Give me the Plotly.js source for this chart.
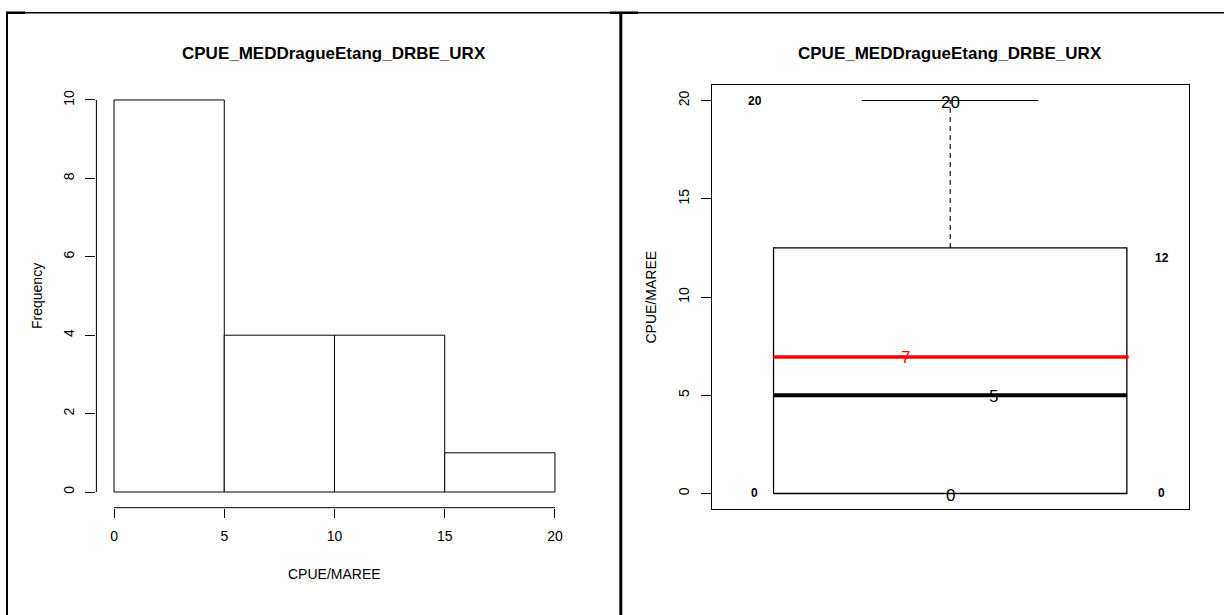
<!DOCTYPE html>
<html>
<head>
<meta charset="utf-8">
<script src="https://cdn.plot.ly/plotly-3.0.1.min.js"></script>
<style>
  html, body { margin: 0; padding: 0; background: #ffffff; }
  #chart { width: 1224px; height: 615px; }
</style>
</head>
<body>
<div id="chart"></div>
<script>
// ---------------- data ----------------
const chartTitle = "CPUE_MEDDragueEtang_DRBE_URX";
const valueLabel = "CPUE/MAREE";
const freqLabel = "Frequency";

const histBinEdges = [0, 5, 10, 15, 20];
const histCounts = [10, 4, 4, 1];
const histXTicks = [0, 5, 10, 15, 20];
const histYTicks = [0, 2, 4, 6, 8, 10];

const boxYTicks = [0, 5, 10, 15, 20];
const boxStatNames = ["min", "q1", "median", "mean", "q3", "max"];
const boxStatValues = [0, 0, 5, 6.95, 12.5, 20];

// ---------------- helpers ----------------
const W = 1224, H = 615;
const px = v => v / W;            // horizontal pixel -> paper
const py = v => (H - v) / H;      // vertical pixel (from top) -> paper
const stat = name => boxStatValues[boxStatNames.indexOf(name)];
function roundHalfEven(v) {        // R's round()
  const f = Math.floor(v), d = v - f;
  if (Math.abs(d - 0.5) < 1e-9) return (f % 2 === 0) ? f : f + 1;
  return Math.round(v);
}

const FONT = "Liberation Sans, Arial, Helvetica, sans-serif";
const BLACK = "#000000";

// histogram bars from bin edges
const barCenters = histCounts.map((_, i) => (histBinEdges[i] + histBinEdges[i + 1]) / 2);
const barWidths = histCounts.map((_, i) => histBinEdges[i + 1] - histBinEdges[i]);

// box geometry (style constants)
const boxPos = 1, boxHalf = 0.4, capHalf = 0.2;
const bx0 = boxPos - boxHalf, bx1 = boxPos + boxHalf;

const traces = [
  {
    type: "bar", x: barCenters, y: histCounts, width: barWidths,
    marker: { color: "#ffffff", line: { color: BLACK, width: 1 } },
    xaxis: "x", yaxis: "y", hoverinfo: "skip", showlegend: false
  },
  // box outline
  {
    type: "scatter", mode: "lines", xaxis: "x2", yaxis: "y2",
    x: [bx0, bx1, bx1, bx0, bx0],
    y: [stat("q1"), stat("q1"), stat("q3"), stat("q3"), stat("q1")],
    line: { color: BLACK, width: 1.3 }, hoverinfo: "skip", showlegend: false
  },
  // upper whisker (dashed)
  {
    type: "scatter", mode: "lines", xaxis: "x2", yaxis: "y2",
    x: [boxPos, boxPos], y: [stat("q3"), stat("max")],
    line: { color: BLACK, width: 1.1, dash: "5px,4px" }, hoverinfo: "skip", showlegend: false
  },
  // lower whisker (dashed)
  {
    type: "scatter", mode: "lines", xaxis: "x2", yaxis: "y2",
    x: [boxPos, boxPos], y: [stat("min"), stat("q1")],
    line: { color: BLACK, width: 1.1, dash: "5px,4px" }, hoverinfo: "skip", showlegend: false
  },
  // caps
  {
    type: "scatter", mode: "lines", xaxis: "x2", yaxis: "y2",
    x: [boxPos - capHalf, boxPos + capHalf], y: [stat("max"), stat("max")],
    line: { color: BLACK, width: 1.2 }, hoverinfo: "skip", showlegend: false
  },
  {
    type: "scatter", mode: "lines", xaxis: "x2", yaxis: "y2",
    x: [boxPos - capHalf, boxPos + capHalf], y: [stat("min"), stat("min")],
    line: { color: BLACK, width: 1.2 }, hoverinfo: "skip", showlegend: false
  },
  // median
  {
    type: "scatter", mode: "lines", xaxis: "x2", yaxis: "y2",
    x: [bx0, bx1], y: [stat("median"), stat("median")],
    line: { color: BLACK, width: 4 }, hoverinfo: "skip", showlegend: false
  },
  // mean (red)
  {
    type: "scatter", mode: "lines", xaxis: "x2", yaxis: "y2",
    x: [bx0, bx1 + 0.004], y: [stat("mean"), stat("mean")],
    line: { color: "#ff0000", width: 3.5 }, hoverinfo: "skip", showlegend: false
  }
];

const tickFont = { family: FONT, size: 14, color: BLACK };

const layout = {
  width: W, height: H,
  margin: { l: 0, r: 0, t: 0, b: 0, pad: 0 },
  paper_bgcolor: "#ffffff", plot_bgcolor: "rgba(0,0,0,0)",
  showlegend: false, bargap: 0,
  font: { family: FONT, color: BLACK },
  xaxis: {
    domain: [px(96.4), px(572.6)], range: [-0.8, 20.8], anchor: "y",
    tickvals: histXTicks, ticktext: histXTicks.map(String),
    ticks: "outside", ticklen: 9, tickwidth: 1, tickcolor: BLACK,
    showline: false, showgrid: false, zeroline: false,
    tickfont: tickFont, ticklabelstandoff: 6, fixedrange: true
  },
  yaxis: {
    domain: [py(507.7), py(84.3)], range: [-0.4, 10.4], anchor: "x",
    tickvals: histYTicks, ticktext: histYTicks.map(String), tickangle: -90,
    ticks: "outside", ticklen: 10, tickwidth: 1, tickcolor: BLACK,
    showline: false, showgrid: false, zeroline: false,
    tickfont: tickFont, ticklabelstandoff: 6, fixedrange: true
  },
  xaxis2: {
    domain: [px(711.7), px(1188.7)], range: [0.46, 1.54], anchor: "y2",
    showticklabels: false, ticks: "",
    showline: true, mirror: true, linecolor: BLACK, linewidth: 1.2,
    showgrid: false, zeroline: false, fixedrange: true
  },
  yaxis2: {
    domain: [py(509.2), py(84.8)], range: [-0.8, 20.8], anchor: "x2",
    tickvals: boxYTicks, ticktext: boxYTicks.map(String), tickangle: -90,
    ticks: "outside", ticklen: 10, tickwidth: 1, tickcolor: BLACK,
    showline: true, mirror: true, linecolor: BLACK, linewidth: 1.2,
    showgrid: false, zeroline: false,
    tickfont: tickFont, ticklabelstandoff: 6, fixedrange: true
  },
  shapes: [
    // histogram axis lines (span first to last tick, like R)
    { type: "line", xref: "x", yref: "y domain", x0: histXTicks[0], x1: histXTicks[histXTicks.length - 1], y0: 0, y1: 0, line: { color: BLACK, width: 1 } },
    { type: "line", xref: "x domain", yref: "y", x0: 0, x1: 0, y0: histYTicks[0], y1: histYTicks[histYTicks.length - 1], line: { color: BLACK, width: 1 } },
    // page frame
    { type: "line", xref: "paper", yref: "paper", x0: px(6), x1: 1, y0: py(12.7), y1: py(12.7), line: { color: BLACK, width: 1.5 } },
    { type: "line", xref: "paper", yref: "paper", x0: px(7), x1: px(7), y0: py(12), y1: 0, line: { color: BLACK, width: 2 } },
    { type: "line", xref: "paper", yref: "paper", x0: px(6), x1: px(25), y0: py(12.7), y1: py(12.7), line: { color: BLACK, width: 2.5 } },
    { type: "line", xref: "paper", yref: "paper", x0: px(620.8), x1: px(620.8), y0: py(12), y1: 0, line: { color: BLACK, width: 3 } },
    { type: "line", xref: "paper", yref: "paper", x0: px(610), x1: px(638), y0: py(12.7), y1: py(12.7), line: { color: BLACK, width: 2.5 } }
  ],
  annotations: [
    // titles
    { text: "<b>" + chartTitle + "</b>", xref: "paper", yref: "paper", x: px(334.5), y: py(54), showarrow: false, xanchor: "center", yanchor: "middle", font: { family: FONT, size: 17, color: BLACK } },
    { text: "<b>" + chartTitle + "</b>", xref: "paper", yref: "paper", x: px(950.2), y: py(54), showarrow: false, xanchor: "center", yanchor: "middle", font: { family: FONT, size: 17, color: BLACK } },
    { text: valueLabel, xref: "paper", yref: "paper", x: px(334.5), y: py(573.5), showarrow: false, xanchor: "center", yanchor: "middle", font: { family: FONT, size: 14, color: BLACK } },
    { text: freqLabel, xref: "paper", yref: "paper", x: px(37), y: py(296), showarrow: false, textangle: -90, xanchor: "center", yanchor: "middle", font: { family: FONT, size: 14, color: BLACK } },
    { text: valueLabel, xref: "paper", yref: "paper", x: px(650.5), y: py(297), showarrow: false, textangle: -90, xanchor: "center", yanchor: "middle", font: { family: FONT, size: 14, color: BLACK } },
    // boxplot value labels
    { text: "<b>" + roundHalfEven(stat("max")) + "</b>", xref: "x2", yref: "y2", x: 0.558, y: stat("max"), showarrow: false, font: { family: FONT, size: 12, color: BLACK } },
    { text: "<b>" + roundHalfEven(stat("min")) + "</b>", xref: "x2", yref: "y2", x: 0.558, y: stat("min"), showarrow: false, font: { family: FONT, size: 12, color: BLACK } },
    { text: "<b>" + roundHalfEven(stat("q3")) + "</b>", xref: "x2", yref: "y2", x: 1.479, y: roundHalfEven(stat("q3")), showarrow: false, font: { family: FONT, size: 12, color: BLACK } },
    { text: "<b>" + roundHalfEven(stat("q1")) + "</b>", xref: "x2", yref: "y2", x: 1.479, y: roundHalfEven(stat("q1")), showarrow: false, font: { family: FONT, size: 12, color: BLACK } },
    { text: String(roundHalfEven(stat("max"))), xref: "x2", yref: "y2", x: boxPos, y: stat("max"), yshift: -2, showarrow: false, font: { family: FONT, size: 17, color: BLACK } },
    { text: String(roundHalfEven(stat("min"))), xref: "x2", yref: "y2", x: boxPos, y: stat("min"), yshift: -2, showarrow: false, font: { family: FONT, size: 17, color: BLACK } },
    { text: String(roundHalfEven(stat("mean"))), xref: "x2", yref: "y2", x: 0.898, y: roundHalfEven(stat("mean")), yshift: -1.5, showarrow: false, font: { family: FONT, size: 17, color: "#ff0000" } },
    { text: String(roundHalfEven(stat("median"))), xref: "x2", yref: "y2", x: 1.098, y: stat("median"), yshift: -1.5, showarrow: false, font: { family: FONT, size: 17, color: BLACK } }
  ]
};

Plotly.newPlot("chart", traces, layout, { staticPlot: true, displayModeBar: false });
</script>
</body>
</html>
